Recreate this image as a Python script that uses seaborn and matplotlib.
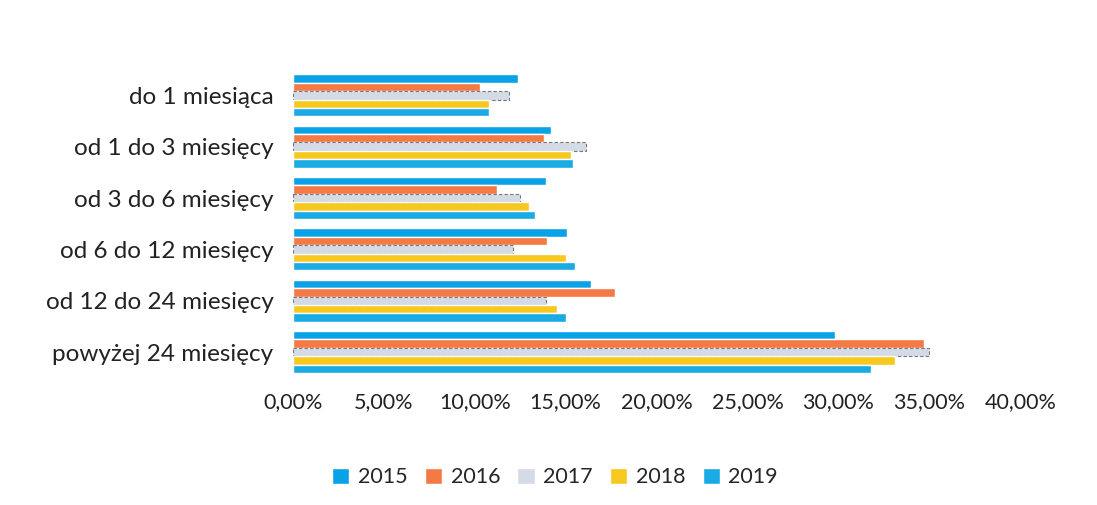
import pandas as pd
import seaborn as sns
import matplotlib.pyplot as plt
from matplotlib.ticker import FuncFormatter

categories = ["do 1 miesiąca", "od 1 do 3 miesięcy", "od 3 do 6 miesięcy",
              "od 6 do 12 miesięcy", "od 12 do 24 miesięcy", "powyżej 24 miesięcy"]
years = ["2015", "2016", "2017", "2018", "2019"]
v2015 = [0.124, 0.142, 0.139, 0.151, 0.164, 0.298]
v2016 = [0.103, 0.138, 0.112, 0.140, 0.177, 0.347]
v2017 = [0.119, 0.161, 0.125, 0.121, 0.139, 0.350]
v2018 = [0.108, 0.153, 0.130, 0.150, 0.145, 0.331]
v2019 = [0.108, 0.154, 0.133, 0.155, 0.150, 0.318]
colors = ["#0aa2e6", "#f47a45", "#d5dbe6", "#f7c81e", "#1aaae4"]

rows = []
for y, vals in zip(years, [v2015, v2016, v2017, v2018, v2019]):
    for c, v in zip(categories, vals):
        rows.append({"kategoria": c, "rok": y, "udzial": v})
df = pd.DataFrame(rows)

sns.set_style("white")
plt.rcParams["font.family"] = ["Lato", "DejaVu Sans"]

fig = plt.figure(figsize=(10.97, 5.05), dpi=100)
ax = fig.add_axes([0.267, 0.252, 0.663, 0.61])

sns.barplot(data=df, y="kategoria", x="udzial", hue="rok", order=categories,
            hue_order=years, palette=colors, orient="h", width=0.82,
            saturation=1, ax=ax, legend=True)

# 2017 bars have a dark dashed outline in the original
for patch in ax.containers[2]:
    patch.set_edgecolor("#777777")
    patch.set_linestyle((0, (3, 2)))
    patch.set_linewidth(0.8)

ax.set_xlim(0, 0.40)
ax.xaxis.set_major_formatter(FuncFormatter(lambda v, p: f"{v * 100:.2f}%".replace(".", ",")))
ax.set_xlabel("")
ax.set_ylabel("")
ax.tick_params(axis="x", labelsize=15.5, colors="#222222", length=0, pad=10)
ax.tick_params(axis="y", labelsize=17.5, colors="#222222", length=0, pad=14)
sns.despine(ax=ax, left=True, bottom=True)

handles, labels = ax.get_legend_handles_labels()
ax.legend_.remove()
fig.legend(handles, labels, loc="center", bbox_to_anchor=(0.506, 0.055), ncol=5,
           frameon=False, fontsize=15.5, handlelength=0.8, handleheight=0.8,
           handletextpad=0.4, columnspacing=0.8)

fig.savefig("out.png", dpi=100, facecolor="white")
